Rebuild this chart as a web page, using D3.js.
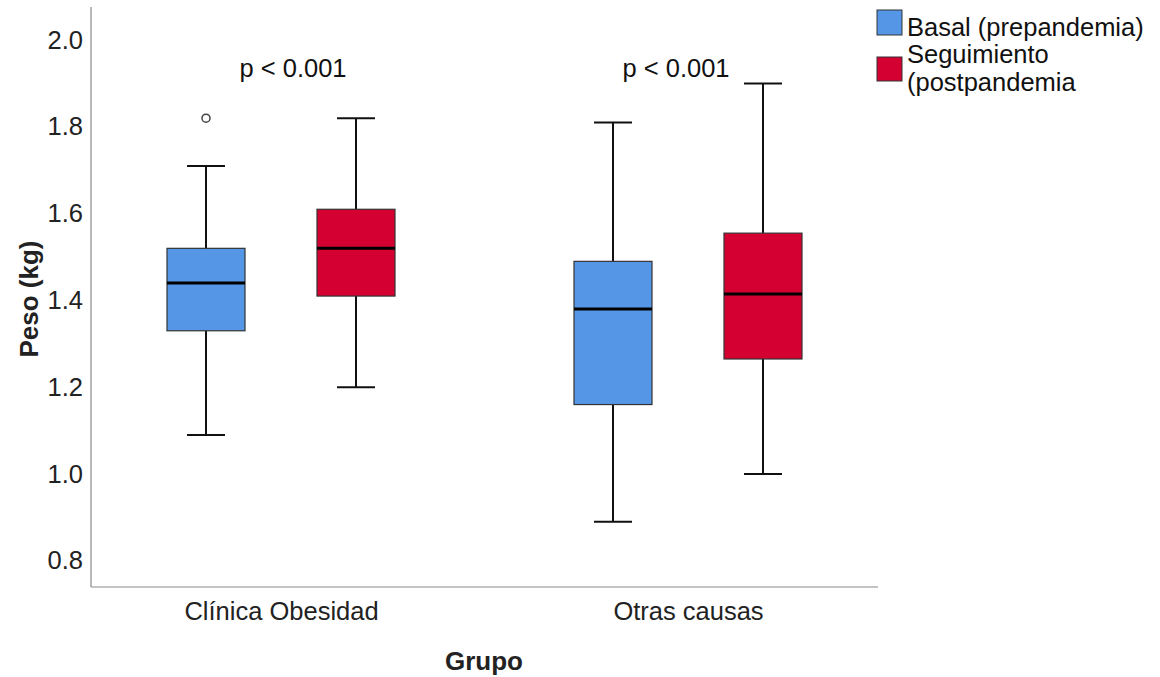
<!DOCTYPE html>
<html>
<head>
<meta charset="utf-8">
<script src="https://cdn.jsdelivr.net/npm/d3@7"></script>
<style>
  html, body { margin: 0; padding: 0; background: #fff; }
  svg { display: block; font-family: "Liberation Sans", Arial, sans-serif; }
</style>
</head>
<body>
<svg id="chart" width="1160" height="677"></svg>
<script>
// Groups and measurement series
const groups = ["Clínica Obesidad", "Otras causas"];
const series = ["Basal (prepandemia)", "Seguimiento (postpandemia"];
const seriesColors = ["#5596E6", "#D50032"];

// Five-number summaries per group: [min, q1, median, q3, max]
const basalStats = [
  [1.09, 1.33, 1.44, 1.52, 1.71],
  [0.89, 1.16, 1.38, 1.49, 1.81]
];
const seguimientoStats = [
  [1.20, 1.41, 1.52, 1.61, 1.82],
  [1.00, 1.265, 1.415, 1.555, 1.90]
];
// Outliers: [groupIndex, seriesIndex, value]
const outliers = [[0, 0, 1.82]];

const yTicks = [0.8, 1.0, 1.2, 1.4, 1.6, 1.8, 2.0];
const pLabels = ["p < 0.001", "p < 0.001"];

const FONT = 25.5;
const svg = d3.select("#chart");
const plot = { left: 91, right: 878, top: 7, bottom: 587 };

const y = d3.scaleLinear().domain([0.7396, 2.0761]).range([plot.bottom, plot.top]);
// group centres across the plot, series offsets within each group
const x0 = d3.scalePoint().domain(groups).range([281, 688]);
const x1 = d3.scalePoint().domain(series).range([-75, 75]);
const boxW = 78;
const capHalf = 19;

// Axis lines
svg.append("line").attr("x1", plot.left).attr("x2", plot.left)
  .attr("y1", plot.top).attr("y2", plot.bottom)
  .attr("stroke", "#8a8a8a").attr("stroke-width", 1.2);
svg.append("line").attr("x1", plot.left).attr("x2", plot.right)
  .attr("y1", plot.bottom).attr("y2", plot.bottom)
  .attr("stroke", "#8a8a8a").attr("stroke-width", 1.2);

// Y tick labels
const yAxis = d3.axisLeft(y).tickValues(yTicks).tickFormat(d3.format(".1f")).tickSize(0).tickPadding(8);
const yg = svg.append("g").attr("transform", `translate(${plot.left},0)`).call(yAxis);
yg.select(".domain").remove();
yg.selectAll("text").attr("font-size", FONT).attr("fill", "#222")
  .attr("font-family", "'Liberation Sans', Arial, sans-serif");

// X category labels
const xAxis = d3.axisBottom(x0).tickSize(0).tickPadding(15);
const xg = svg.append("g").attr("transform", `translate(0,${plot.bottom})`).call(xAxis);
xg.select(".domain").remove();
xg.selectAll("text").attr("font-size", FONT).attr("fill", "#222")
  .attr("font-family", "'Liberation Sans', Arial, sans-serif");

// Axis titles
svg.append("text").attr("x", 484).attr("y", 670)
  .attr("text-anchor", "middle").attr("font-size", 26).attr("font-weight", "bold").attr("fill", "#222")
  .text("Grupo");
svg.append("text").attr("transform", `translate(38,299) rotate(-90)`)
  .attr("text-anchor", "middle").attr("font-size", 26).attr("font-weight", "bold").attr("fill", "#222")
  .text("Peso (kg)");

// Box plots
const allStats = [basalStats, seguimientoStats];
groups.forEach((g, gi) => {
  series.forEach((s, si) => {
    const [mn, q1, med, q3, mx] = allStats[si][gi];
    const cx = x0(g) + x1(s);
    const bx = cx - boxW / 2;
    const grp = svg.append("g");
    // whiskers and caps
    grp.append("line").attr("x1", cx).attr("x2", cx).attr("y1", y(mx)).attr("y2", y(q3))
      .attr("stroke", "#111").attr("stroke-width", 2);
    grp.append("line").attr("x1", cx).attr("x2", cx).attr("y1", y(q1)).attr("y2", y(mn))
      .attr("stroke", "#111").attr("stroke-width", 2);
    grp.append("line").attr("x1", cx - capHalf).attr("x2", cx + capHalf).attr("y1", y(mx)).attr("y2", y(mx))
      .attr("stroke", "#111").attr("stroke-width", 2);
    grp.append("line").attr("x1", cx - capHalf).attr("x2", cx + capHalf).attr("y1", y(mn)).attr("y2", y(mn))
      .attr("stroke", "#111").attr("stroke-width", 2);
    // interquartile box
    grp.append("rect").attr("x", bx).attr("y", y(q3)).attr("width", boxW).attr("height", y(q1) - y(q3))
      .attr("fill", seriesColors[si]).attr("stroke", "#333").attr("stroke-width", 1.2);
    // median
    grp.append("line").attr("x1", bx).attr("x2", bx + boxW).attr("y1", y(med)).attr("y2", y(med))
      .attr("stroke", "#000").attr("stroke-width", 3);
  });
});

// Outlier markers
outliers.forEach(([gi, si, v]) => {
  const cx = x0(groups[gi]) + x1(series[si]);
  svg.append("circle").attr("cx", cx).attr("cy", y(v)).attr("r", 4)
    .attr("fill", "#fff").attr("stroke", "#444").attr("stroke-width", 1.5);
});

// Significance labels
const pX = [293, 676];
groups.forEach((g, gi) => {
  svg.append("text").attr("x", pX[gi]).attr("y", 77).attr("text-anchor", "middle")
    .attr("font-size", FONT).attr("fill", "#111").text(pLabels[gi]);
});

// Legend
const legend = svg.append("g").attr("transform", "translate(877,10)");
legend.append("rect").attr("x", 0).attr("y", 0).attr("width", 25).attr("height", 25)
  .attr("fill", seriesColors[0]).attr("stroke", "#333").attr("stroke-width", 1);
legend.append("text").attr("x", 30).attr("y", 26).attr("font-size", FONT).attr("fill", "#111").text(series[0]);
legend.append("rect").attr("x", 0).attr("y", 47).attr("width", 25).attr("height", 24)
  .attr("fill", seriesColors[1]).attr("stroke", "#333").attr("stroke-width", 1);
legend.append("text").attr("x", 30).attr("y", 53).attr("font-size", FONT).attr("fill", "#111").text("Seguimiento");
legend.append("text").attr("x", 30).attr("y", 81).attr("font-size", FONT).attr("fill", "#111").text("(postpandemia");
</script>
</body>
</html>
